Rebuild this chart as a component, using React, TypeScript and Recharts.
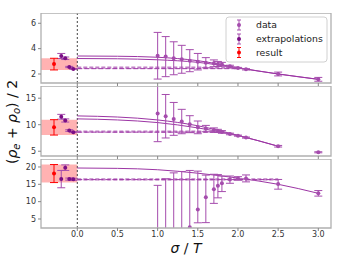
import React from 'react';
import {
  ComposedChart,
  Scatter,
  Line,
  XAxis,
  YAxis,
  ErrorBar,
  ReferenceArea,
  ReferenceLine,
} from 'recharts';

// x positions
const sigma = [1.0, 1.1, 1.2, 1.3, 1.4, 1.5, 1.6, 1.7, 1.75, 1.8, 1.9, 2.0, 2.1, 2.5, 3.0];
const extrapX = [-0.2, -0.15, -0.1, -0.05];
const resultX = -0.29;
const fitX = [0, 0.5, 1.0, 1.5, 2.0, 2.5, 3.0];

// panel 1
const data1 = [3.44, 3.37, 3.24, 3.16, 3.05, 2.97, 2.89, 2.84, 2.79, 2.77, 2.61, 2.47, 2.37, 2.0, 1.58];
const err1 = [1.84, 1.58, 1.3, 1.1, 0.87, 0.65, 0.4, 0.27, 0.2, 0.15, 0.08, 0.05, 0.05, 0.15, 0.15];
const extrap1 = [3.42, 3.24, 2.55, 2.4];
const extrapErr1 = [0.2, 0.1, 0.05, 0.03];
const result1 = [2.78, 0.46];
const curveA1 = [3.42, 3.4, 3.32, 3.05, 2.5, 2.0, 1.58];
const curveB1 = [3.22, 3.2, 3.12, 2.92, 2.47, 2.0, 1.58];
const flat1 = [2.5, 2.42];
const flatEnd1 = 2.0;

// panel 2
const data2 = [12.1, 11.6, 11.1, 10.6, 10.1, 9.5, 9.27, 9.0, 8.83, 8.64, 8.26, 7.94, 7.57, 5.94, 4.8];
const err2 = [5.3, 4.1, 3.1, 2.3, 1.6, 1.2, 0.6, 0.4, 0.3, 0.25, 0.15, 0.1, 0.1, 0.15, 0.1];
const extrap2 = [11.5, 10.8, 8.9, 8.6];
const extrapErr2 = [0.45, 0.3, 0.15, 0.1];
const result2 = [9.5, 1.45];
const curveA2 = [11.66, 11.45, 10.9, 9.8, 8.0, 5.94];
const curveB2 = [11.1, 10.9, 10.4, 9.4, 7.95, 5.94];
const flat2 = [8.7, 8.6];
const flatEnd2 = 1.8;

// panel 3 (asymmetric errors: [below, above])
const data3 = [-8, -5, -2, 0.5, 2.6, 7.7, 11.25, 13.6, 14.6, 15.3, 16.4, 16.7, 16.7, 15.1, 12.4];
const err3 = [
  [22.7, 22.7], [21.6, 21.6], [20.3, 20.3], [18.2, 18.2], [16.4, 16.4], [3.8, 11.1], [7.3, 6.4],
  [4.1, 4.3], [3.5, 3.2], [2.4, 2.1], [1.1, 1.0], [0.5, 0.5], [1.0, 1.0], [1.5, 1.3], [0.8, 0.8],
];
const extrap3 = [16.5, 19.8, 16.5, 16.45];
const extrapErr3 = [2.5, 0.8, 0.3, 0.3];
const result3 = [18.1, 2.6];
const curveA3 = [19.7, 19.6, 19.2, 18.2, 16.8, 15.0, 12.4];
const flat3 = [16.45, 16.35];
const flatEnd3 = 2.5;

const X_DOMAIN: [number, number] = [-0.452, 3.158];
const X_TICKS = [0, 0.5, 1, 1.5, 2, 2.5, 3];

const DATA_C = '#a54cad';
const EXTRAP_C = '#7a0e85';
const FIT_C = '#9c35a4';
const RESULT_C = '#ff0000';
const FRAME_C = '#b0b0b0';
const FONT = 'DejaVu Sans, sans-serif';
const PLOT_L = 41;
const PLOT_RM = 11;

const pts = (xs: number[], ys: number[], es?: any[]) =>
  ys.map((y, i) => ({ x: xs[i], y, e: es ? es[i] : 0 }));

const dot = (color: string, r = 2) => (p: any) =>
  p.cx == null ? <g /> : <circle cx={p.cx} cy={p.cy} r={r} fill={color} />;

interface PanelProps {
  plotTop: number;
  plotBottom: number;
  yDomain: [number, number];
  yTicks: number[];
  data: number[];
  err: any[];
  extrap: number[];
  extrapErr: number[];
  result: number[];
  curves: number[][];
  flats: number[];
  flatEnd: number;
  xLabels: boolean;
}

const Panel: React.FC<PanelProps> = (p) => {
  const plotH = p.plotBottom - p.plotTop;
  const axisH = p.xLabels ? 20 : 6;
  const tickStyle = { fontSize: 8, fill: '#333', fontFamily: FONT };
  return (
    <>
      {/* data layer, clipped to the plot area */}
      <div
        style={{ position: 'absolute', left: 0, top: p.plotTop, width: 342, height: plotH, overflow: 'hidden' }}
      >
        <ComposedChart
          width={342}
          height={plotH}
          margin={{ top: 0, right: PLOT_RM, bottom: 0, left: PLOT_L }}
        >
          <XAxis type="number" dataKey="x" domain={X_DOMAIN} allowDataOverflow hide />
          <YAxis type="number" dataKey="y" domain={p.yDomain} allowDataOverflow hide />
          <ReferenceArea
            x1={X_DOMAIN[0]}
            x2={0}
            y1={p.result[0] - p.result[1]}
            y2={p.result[0] + p.result[1]}
            fill={RESULT_C}
            fillOpacity={0.3}
            stroke="none"
            ifOverflow="visible"
          />
          <ReferenceLine x={0} stroke="#444" strokeDasharray="2 2" strokeWidth={1} />
          {p.curves.map((c, i) => (
            <Line
              key={'c' + i}
              data={pts(fitX, c)}
              dataKey="y"
              type="monotone"
              stroke={FIT_C}
              strokeWidth={1}
              dot={false}
              isAnimationActive={false}
            />
          ))}
          <Line
            data={pts([0, p.flatEnd], [p.flats[0], p.flats[0]])}
            dataKey="y"
            stroke="#c07fc6"
            strokeWidth={2.2}
            strokeDasharray="4 2"
            dot={false}
            isAnimationActive={false}
          />
          <Line
            data={pts([0, p.flatEnd], [p.flats[1], p.flats[1]])}
            dataKey="y"
            stroke={FIT_C}
            strokeWidth={1}
            strokeDasharray="5 2"
            dot={false}
            isAnimationActive={false}
          />
          <Scatter data={pts(sigma, p.data, p.err)} shape={dot(DATA_C)} isAnimationActive={false}>
            <ErrorBar dataKey="e" direction="y" width={4} stroke={DATA_C} strokeWidth={1} />
          </Scatter>
          <Scatter data={pts(extrapX, p.extrap, p.extrapErr)} shape={dot(EXTRAP_C)} isAnimationActive={false}>
            <ErrorBar dataKey="e" direction="y" width={4} stroke={DATA_C} strokeWidth={1} />
          </Scatter>
          <Scatter
            data={[{ x: resultX, y: p.result[0], e: p.result[1] }]}
            shape={dot(RESULT_C)}
            isAnimationActive={false}
          >
            <ErrorBar dataKey="e" direction="y" width={4} stroke={RESULT_C} strokeWidth={1} />
          </Scatter>
        </ComposedChart>
      </div>
      {/* axes and frame */}
      <div style={{ position: 'absolute', left: 0, top: p.plotTop, pointerEvents: 'none' }}>
        <ComposedChart
          width={342}
          height={plotH + axisH}
          margin={{ top: 0, right: PLOT_RM, bottom: 0, left: 0 }}
          style={{ overflow: 'visible' }}
        >
          <XAxis
            type="number"
            dataKey="x"
            domain={X_DOMAIN}
            ticks={X_TICKS}
            allowDataOverflow
            height={axisH}
            axisLine={false}
            tickLine={{ stroke: '#888' }}
            tickSize={3}
            tickMargin={0}
            tick={tickStyle}
            tickFormatter={(v: number) => (p.xLabels ? v.toFixed(1) : '')}
          />
          <YAxis
            type="number"
            dataKey="y"
            domain={p.yDomain}
            ticks={p.yTicks}
            allowDataOverflow
            width={PLOT_L}
            axisLine={false}
            tickLine={{ stroke: '#888' }}
            tickSize={3}
            tick={tickStyle}
          />
          <Line
            data={[
              { x: X_DOMAIN[0], y: p.yDomain[0] },
              { x: X_DOMAIN[1], y: p.yDomain[1] },
            ]}
            dataKey="y"
            stroke="none"
            dot={false}
            isAnimationActive={false}
          />
          <ReferenceArea
            x1={X_DOMAIN[0]}
            x2={X_DOMAIN[1]}
            y1={p.yDomain[0]}
            y2={p.yDomain[1]}
            fill="none"
            stroke={FRAME_C}
            strokeWidth={1.3}
            ifOverflow="visible"
          />
        </ComposedChart>
      </div>
    </>
  );
};

const legendRows = [
  { label: 'data', color: DATA_C, y: 25 },
  { label: 'extrapolations', color: EXTRAP_C, y: 39 },
  { label: 'result', color: RESULT_C, y: 52.5 },
];

const App: React.FC = () => {
  return (
    <div style={{ position: 'absolute', left: 0, top: 0, width: 342, height: 260, background: '#fff' }}>
      <Panel
        plotTop={13}
        plotBottom={83}
        yDomain={[1.29, 6.81]}
        yTicks={[2, 4, 6]}
        data={data1}
        err={err1}
        extrap={extrap1}
        extrapErr={extrapErr1}
        result={result1}
        curves={[curveA1, curveB1]}
        flats={flat1}
        flatEnd={flatEnd1}
        xLabels={false}
      />
      <Panel
        plotTop={86}
        plotBottom={156}
        yDomain={[4.1, 17.3]}
        yTicks={[5, 10, 15]}
        data={data2}
        err={err2}
        extrap={extrap2}
        extrapErr={extrapErr2}
        result={result2}
        curves={[curveA2, curveB2]}
        flats={flat2}
        flatEnd={flatEnd2}
        xLabels={false}
      />
      <Panel
        plotTop={159}
        plotBottom={228}
        yDomain={[2.4, 22.3]}
        yTicks={[5, 10, 15, 20]}
        data={data3}
        err={err3}
        extrap={extrap3}
        extrapErr={extrapErr3}
        result={result3}
        curves={[curveA3]}
        flats={flat3}
        flatEnd={flatEnd3}
        xLabels={true}
      />
      <svg
        width={342}
        height={260}
        style={{ position: 'absolute', left: 0, top: 0, pointerEvents: 'none' }}
        fontFamily={FONT}
      >
        <text transform="translate(17,122) rotate(-90)" textAnchor="middle" fontSize={14} fill="#111">
          (<tspan fontStyle="italic">ρ</tspan>
          <tspan fontSize={10} fontStyle="italic" dy={3}>e</tspan>
          <tspan dy={-3}> + </tspan>
          <tspan fontStyle="italic">ρ</tspan>
          <tspan fontSize={10} fontStyle="italic" dy={3}>o</tspan>
          <tspan dy={-3}>) / 2</tspan>
        </text>
        <text x={186} y={252.5} textAnchor="middle" fontSize={14} fill="#111">
          <tspan fontStyle="italic">σ</tspan> / <tspan fontStyle="italic">T</tspan>
        </text>
        <rect x={226} y={17} width={101} height={45} rx={3} fill="#fff" fillOpacity={0.85} stroke="#d0d0d0" />
        {legendRows.map((r) => {
          const bar = r.color === EXTRAP_C ? DATA_C : r.color;
          return (
            <g key={r.label}>
              <line x1={239} x2={239} y1={r.y - 5} y2={r.y + 5} stroke={bar} strokeWidth={1} />
              <line x1={237} x2={241} y1={r.y - 5} y2={r.y - 5} stroke={bar} strokeWidth={1} />
              <line x1={237} x2={241} y1={r.y + 5} y2={r.y + 5} stroke={bar} strokeWidth={1} />
              <circle cx={239} cy={r.y} r={2} fill={r.color} />
              <text x={256} y={r.y + 3.3} fontSize={9.3} fill="#222">
                {r.label}
              </text>
            </g>
          );
        })}
      </svg>
    </div>
  );
};

export default App;
